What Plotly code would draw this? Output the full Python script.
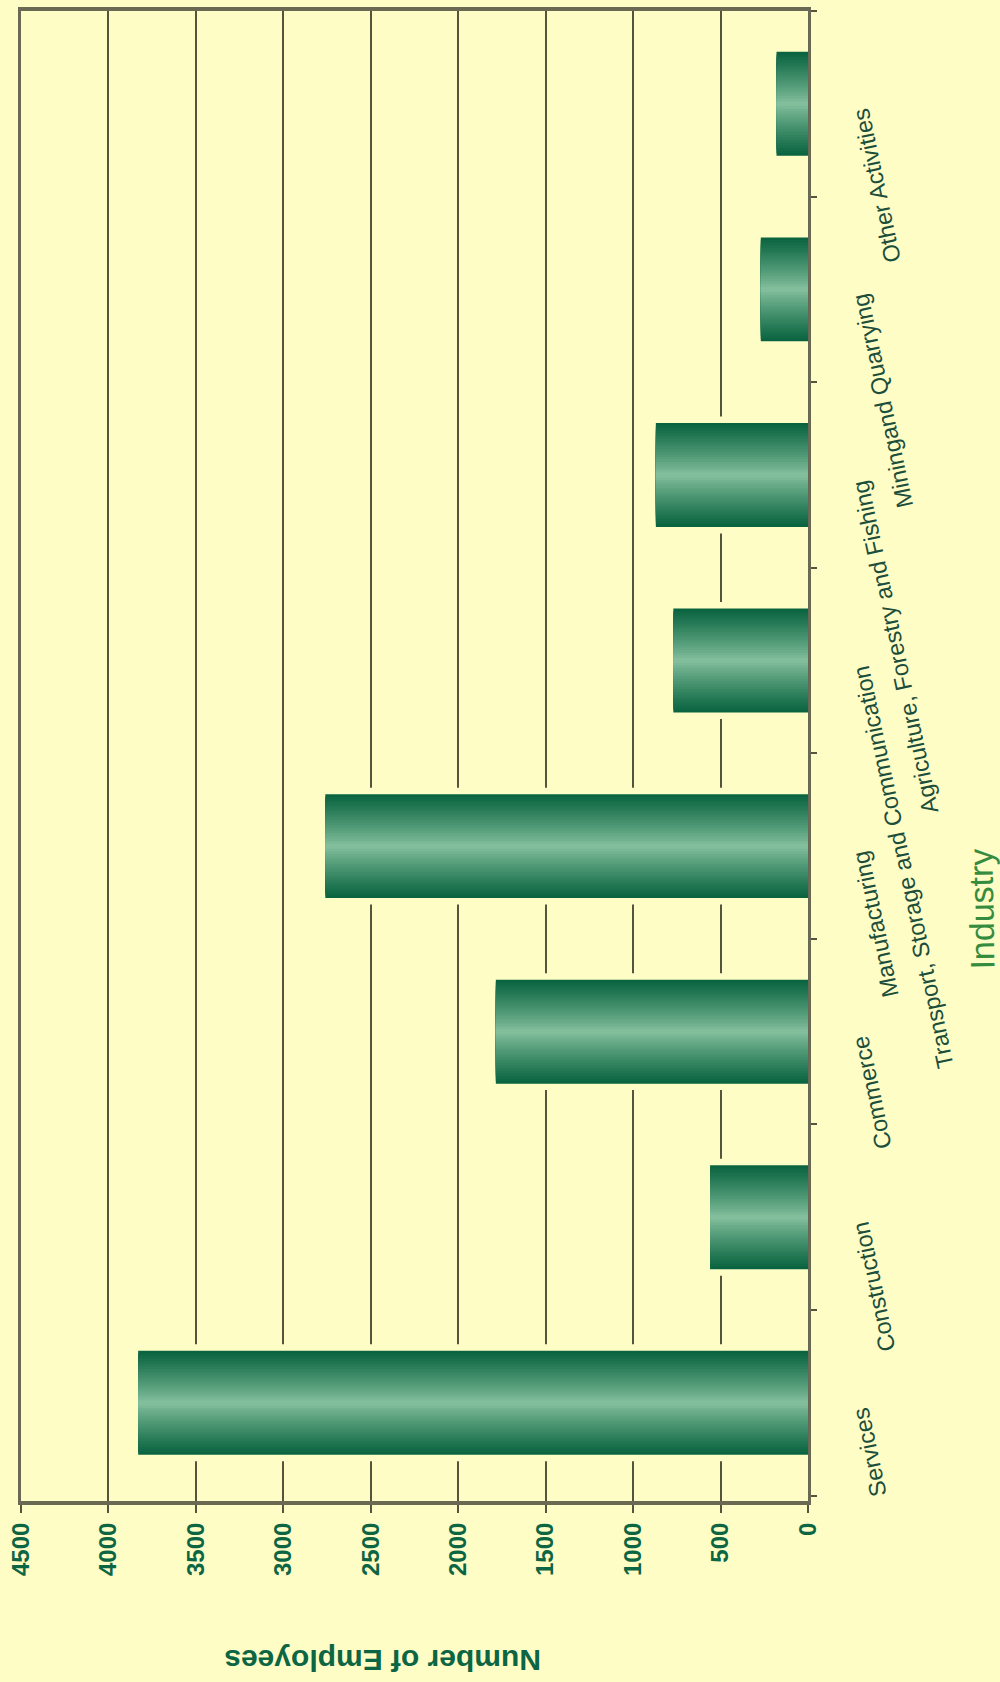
import plotly.graph_objects as go

# Employment by industry
industries = [
    "Services",
    "Construction",
    "Commerce",
    "Manufacturing",
    "Transport, Storage and Communication",
    "Agriculture, Forestry and Fishing",
    "Miningand Quarrying",
    "Other Activities",
]
employees = [3830, 560, 1785, 2760, 770, 870, 270, 180]
value_ticks = [0, 500, 1000, 1500, 2000, 2500, 3000, 3500, 4000, 4500]

BG = "#FFFDC6"
GRID = "#55553F"
DARK_GREEN = "#0C6644"
LABEL_GREEN = "#1B4E3B"
BAR_WIDTH = 0.56
FONT = "Liberation Sans, Arial, sans-serif"

fig = go.Figure()

# pale halo so the gridlines stop just short of each bar
fig.add_trace(go.Bar(
    y=industries, x=employees, orientation="h",
    width=[BAR_WIDTH + 0.07] * len(industries),
    marker=dict(color=BG, line=dict(width=0)),
    hoverinfo="skip", showlegend=False,
))

# cylinder shading: stacked bars of shrinking width, lighter toward the centre
dark = (10, 100, 64)
light = (140, 198, 164)
layers = 20
for k in range(layers):
    frac = 1 - k / layers
    t = frac ** 0.85
    rgb = tuple(round(light[i] + (dark[i] - light[i]) * t) for i in range(3))
    fig.add_trace(go.Bar(
        y=industries, x=employees, orientation="h",
        width=[BAR_WIDTH * frac] * len(industries),
        marker=dict(color="rgb(%d,%d,%d)" % rgb, line=dict(width=0)),
        hoverinfo="skip", showlegend=False,
    ))

# category labels, slanted and hung from each category centre
for name in industries:
    fig.add_annotation(
        x=1, xref="paper", xshift=37,
        y=name, yref="y",
        text=name, textangle=-102,
        xanchor="left", yanchor="top",
        showarrow=False,
        font=dict(family=FONT, size=23.5, color=LABEL_GREEN),
    )

# axis titles
fig.add_annotation(
    x=1, xref="paper", xshift=173,
    y=0.5 - (908 - 754) / 1494, yref="paper",
    text="Industry", textangle=-91,
    xanchor="center", yanchor="middle", showarrow=False,
    font=dict(family=FONT, size=34, color="#358C3E"),
)
fig.add_annotation(
    x=(383 - 21) / 787, xref="paper",
    y=0, yref="paper", yshift=-160,
    text="<b>Number of Employees</b>", textangle=180,
    xanchor="center", yanchor="middle", showarrow=False,
    font=dict(family=FONT, size=30, color=DARK_GREEN),
)

fig.update_layout(
    width=1000, height=1682,
    margin=dict(l=21, r=192, t=7, b=181),
    paper_bgcolor=BG, plot_bgcolor=BG,
    barmode="overlay",
    showlegend=False,
    xaxis=dict(
        range=[4500, 0],
        tickvals=value_ticks,
        ticktext=["<b>%d</b>" % v for v in value_ticks],
        tickangle=-90,
        tickfont=dict(family=FONT, size=24, color=DARK_GREEN),
        ticks="outside", ticklen=8, tickwidth=2, tickcolor=GRID,
        showgrid=True, gridcolor=GRID, gridwidth=2,
        showline=True, linecolor="#6A6A54", linewidth=4, mirror=True,
        zeroline=False,
    ),
    yaxis=dict(
        side="right",
        showticklabels=False,
        ticks="outside", ticklen=6, tickwidth=2, tickcolor=GRID,
        tickson="boundaries",
        showgrid=False,
        showline=True, linecolor="#6A6A54", linewidth=3, mirror=True,
        zeroline=False,
    ),
)

fig.write_html("out.html")
